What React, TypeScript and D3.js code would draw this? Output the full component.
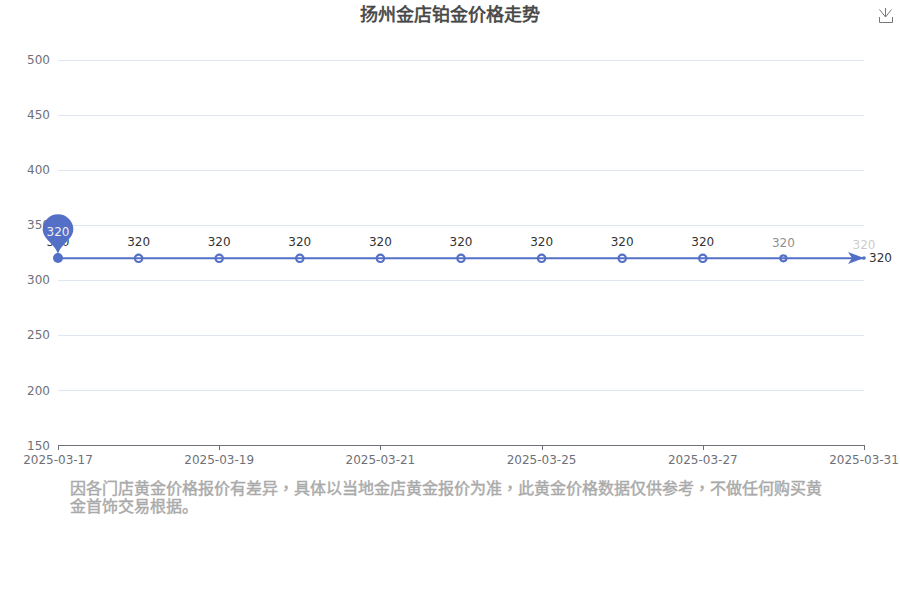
import React from "react";
import * as d3 from "d3";

const categories = ["2025-03-17","2025-03-18","2025-03-19","2025-03-20","2025-03-21","2025-03-24","2025-03-25","2025-03-26","2025-03-27","2025-03-28","2025-03-31"];
const values = [320,320,320,320,320,320,320,320,320,320,320];
const yTicks = [150,200,250,300,350,400,450,500];
const xTickIdx = [0,2,4,6,8,10];
const labelOpacity = [1,1,1,1,1,1,1,1,1,0.55,0.25];
const titleText = "扬州金店铂金价格走势";
const noteLines = ["因各门店黄金价格报价有差异，具体以当地金店黄金报价为准，此黄金价格数据仅供参考，不做任何购买黄","金首饰交易根据。"];
const font = '"DejaVu Sans", "Noto Sans CJK SC", sans-serif';
const blue = "#5470C6";

export default function App() {
  const x = d3.scalePoint<string>().domain(categories).range([58, 864]);
  const y = d3.scaleLinear().domain([150, 500]).range([445, 60]);
  const line = d3.line<number>().x((_, i) => x(categories[i])!).y(d => y(d));
  const x0 = x(categories[0])!;
  const xN = x(categories[categories.length - 1])!;
  const yV = y(values[0]);
  const pinCy = yV - 28.5;
  const pinR = 15.3;
  const last = values.length - 1;
  return (
    <svg width={900} height={600} style={{ position: "absolute", left: 0, top: 0, background: "#fff", opacity: 0.999 }} fontFamily={font}>
      <text x={450} y={20.5} textAnchor="middle" fontSize={18} fill="#464646" stroke="#464646" strokeWidth={0.6}>{titleText}</text>
      <path d="M879.5 9.5 L885.5 17 L891.5 9.5 M885.5 8 V17 M879.5 17 V22.5 H892.5 V17" fill="none" stroke="#777" />
      {yTicks.slice(1).map(t => (
        <line key={t} x1={58} x2={864} y1={Math.round(y(t)) + 0.5} y2={Math.round(y(t)) + 0.5} stroke="#E0E6F1" />
      ))}
      {yTicks.map(t => (
        <text key={t} x={50} y={Math.round(y(t)) + (t <= 200 ? 5 : 4)} textAnchor="end" fontSize={12} fill="#6E7079">{t}</text>
      ))}
      <line x1={58} x2={864.5} y1={445.5} y2={445.5} stroke="#6E7079" />
      {xTickIdx.map(i => (
        <g key={i}>
          <line x1={Math.round(x(categories[i])!) + 0.5} x2={Math.round(x(categories[i])!) + 0.5} y1={445} y2={450} stroke="#6E7079" />
          <text x={x(categories[i])!} y={464} textAnchor="middle" fontSize={12} fill="#6E7079">{categories[i]}</text>
        </g>
      ))}
      {values.map((v, i) => (
        <text key={i} x={x(categories[i])!} y={y(v) - 12 + (i === last ? 3 : i === last - 1 ? 1 : 0)} textAnchor="middle" fontSize={12} fill="#333" opacity={labelOpacity[i]}>{v}</text>
      ))}
      {values.slice(1, -1).map((v, i) => (
        <circle key={i} cx={x(categories[i + 1])!} cy={y(v) + 0.3} r={i === 8 ? 3 : 3.7} fill="#fff" stroke={blue} strokeWidth={2.2} />
      ))}
      <path d={line(values) ?? ""} fill="none" stroke={blue} strokeWidth={2} transform="translate(0,0.3)" />
      <circle cx={xN} cy={yV} r={1.8} fill={blue} />
      <path d={`M${xN - 16} ${yV - 6} L${xN} ${yV} L${xN - 16} ${yV + 6} L${xN - 12} ${yV} Z`} fill={blue} />
      <text x={xN + 5} y={yV + 4} fontSize={12} fill="#333">{values[last]}</text>
      <circle cx={x0} cy={yV} r={5} fill={blue} />
      <path d={`M${x0} ${yV - 4} C${x0 - 3} ${yV - 14} ${x0 - pinR} ${yV - 19} ${x0 - pinR} ${pinCy} A${pinR} ${pinR} 0 1 1 ${x0 + pinR} ${pinCy} C${x0 + pinR} ${yV - 19} ${x0 + 3} ${yV - 14} ${x0} ${yV - 4} Z`} fill={blue} />
      <text x={x0} y={pinCy + 6.7} textAnchor="middle" fontSize={12} fill="#eee">{values[0]}</text>
      {noteLines.map((t, i) => (
        <text key={i} x={70} y={494 + i * 18} fontSize={16} fill="#aaa" stroke="#aaa" strokeWidth={0.45}>
          {t.split(/(，)/).map((s, j) => (
            <tspan key={j} fontFamily={s === "，" ? '"Noto Sans CJK TC"' : undefined}>{s}</tspan>
          ))}
        </text>
      ))}
    </svg>
  );
}
